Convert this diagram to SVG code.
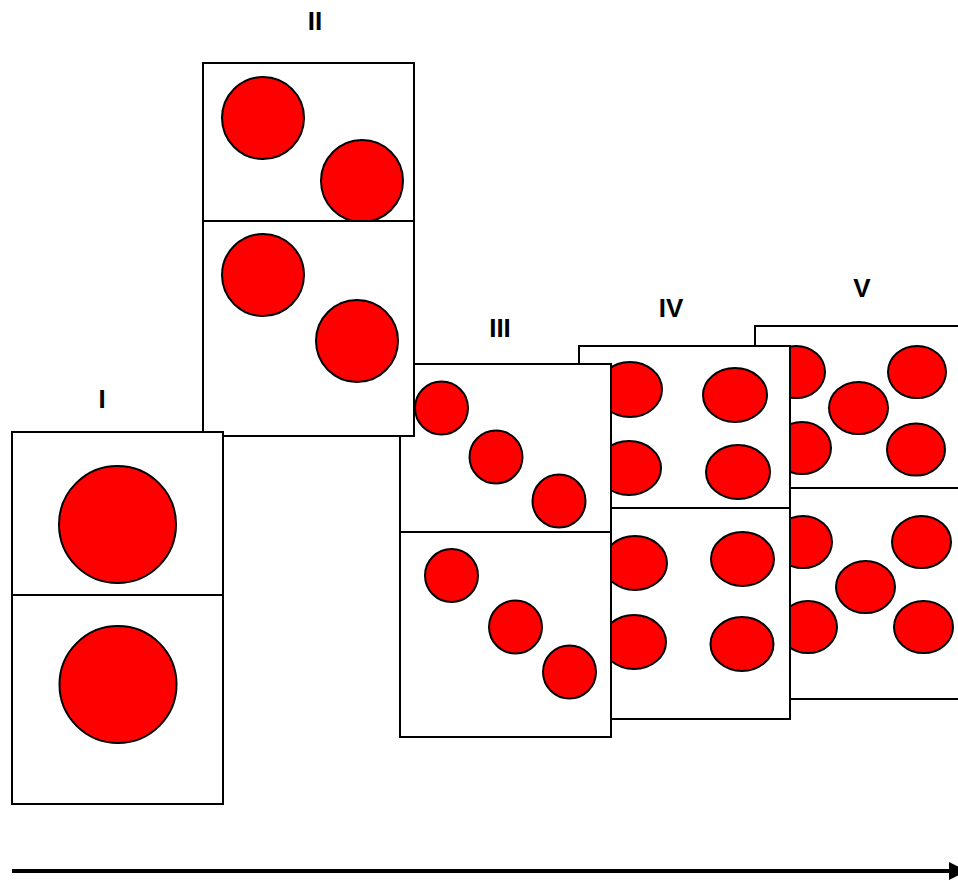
<svg xmlns="http://www.w3.org/2000/svg" width="958" height="880" viewBox="0 0 958 880">
  <style>
    .box { fill: #ffffff; stroke: #000000; stroke-width: 2; }
    .dot { fill: #ff0000; stroke: #000000; stroke-width: 2; }
    .lbl { font-family: "Liberation Sans", Arial, sans-serif; font-weight: bold; font-size: 26px; fill: #000000; text-anchor: middle; }
    .axis { stroke: #000000; stroke-width: 4; fill: none; }
  </style>
  <rect width="958" height="880" fill="#ffffff"/>

  <!-- stage V (back-most) -->
  <g id="stage-V">
    <text class="lbl" x="862" y="297">V</text>
    <rect class="box" x="755" y="326" width="220" height="162"/>
    <ellipse class="dot" cx="796" cy="372" rx="29" ry="26"/>
    <ellipse class="dot" cx="802" cy="448" rx="29" ry="26"/>
    <ellipse class="dot" cx="858.5" cy="408" rx="29.5" ry="26"/>
    <ellipse class="dot" cx="917" cy="372" rx="29" ry="26"/>
    <ellipse class="dot" cx="916" cy="449.5" rx="29" ry="26"/>
    <rect class="box" x="755" y="488" width="220" height="211"/>
    <ellipse class="dot" cx="803" cy="542" rx="29" ry="26"/>
    <ellipse class="dot" cx="808" cy="627" rx="29" ry="26"/>
    <ellipse class="dot" cx="865.5" cy="587" rx="29.5" ry="26"/>
    <ellipse class="dot" cx="921.5" cy="542" rx="29.5" ry="26"/>
    <ellipse class="dot" cx="923.5" cy="627" rx="29.5" ry="26"/>
  </g>

  <!-- stage IV -->
  <g id="stage-IV">
    <text class="lbl" x="671" y="317">IV</text>
    <rect class="box" x="579" y="346" width="211" height="162"/>
    <ellipse class="dot" cx="630" cy="389.5" rx="32" ry="27.5"/>
    <ellipse class="dot" cx="735" cy="395" rx="32" ry="27"/>
    <ellipse class="dot" cx="629" cy="468" rx="32" ry="27"/>
    <ellipse class="dot" cx="738" cy="472" rx="32" ry="27"/>
    <rect class="box" x="579" y="508" width="211" height="211"/>
    <ellipse class="dot" cx="635" cy="563" rx="32" ry="27"/>
    <ellipse class="dot" cx="742.5" cy="559" rx="31.5" ry="27"/>
    <ellipse class="dot" cx="634" cy="642" rx="32" ry="27"/>
    <ellipse class="dot" cx="742" cy="644" rx="31.5" ry="27"/>
  </g>

  <!-- stage III -->
  <g id="stage-III">
    <text class="lbl" x="500" y="337">III</text>
    <rect class="box" x="400" y="364" width="211" height="168"/>
    <circle class="dot" cx="441.5" cy="408" r="26.5"/>
    <circle class="dot" cx="496" cy="457" r="26.5"/>
    <circle class="dot" cx="559" cy="501" r="26.5"/>
    <rect class="box" x="400" y="532" width="211" height="205"/>
    <circle class="dot" cx="451.5" cy="575.5" r="26.5"/>
    <circle class="dot" cx="515.5" cy="627" r="26.5"/>
    <circle class="dot" cx="569.5" cy="672" r="26.5"/>
  </g>

  <!-- stage II -->
  <g id="stage-II">
    <text class="lbl" x="315" y="30">II</text>
    <rect class="box" x="203" y="63" width="211" height="158"/>
    <circle class="dot" cx="263" cy="118" r="41"/>
    <circle class="dot" cx="362" cy="181" r="41"/>
    <rect class="box" x="203" y="221" width="211" height="215"/>
    <circle class="dot" cx="263" cy="275" r="41"/>
    <circle class="dot" cx="357" cy="341" r="41"/>
  </g>

  <!-- stage I (front-most) -->
  <g id="stage-I">
    <text class="lbl" x="102" y="408">I</text>
    <rect class="box" x="12" y="432" width="211" height="163"/>
    <circle class="dot" cx="117.5" cy="524.5" r="58.5"/>
    <rect class="box" x="12" y="595" width="211" height="209"/>
    <circle class="dot" cx="118" cy="684.5" r="58.5"/>
  </g>

  <!-- time axis -->
  <g id="connectors">
    <line class="axis" x1="12" y1="871" x2="952" y2="871"/>
    <polygon points="949,862 967,871 949,880" fill="#000000"/>
  </g>
</svg>
